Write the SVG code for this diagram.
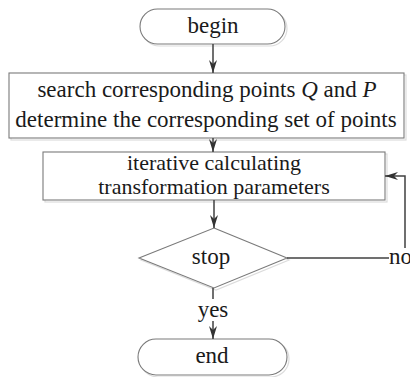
<svg xmlns="http://www.w3.org/2000/svg" width="410" height="377" viewBox="0 0 410 377" font-family="Liberation Serif, Times New Roman, DejaVu Serif, serif">
<style>
.shape{fill:#fff;stroke:#7a7a7a;stroke-width:1.1}
.shadow{fill:none;stroke:#dcdcdc;stroke-width:1.2}
text{font-family:"Liberation Serif","Times New Roman","DejaVu Serif",serif}
.lbl{font-size:23px;fill:#1a1a1a;text-anchor:middle}
.conn{fill:none;stroke:#404040;stroke-width:1.5}
</style>
<defs>
<marker id="arr" markerUnits="userSpaceOnUse" markerWidth="14" markerHeight="10" refX="13" refY="5" orient="auto">
<path d="M0,1 L13,5 L0,9 L4,5 z" fill="#333"/>
</marker>
</defs>
<rect width="410" height="377" fill="#fff"/>
<g id="begin">
<rect class="shadow" x="142" y="11" width="145" height="35" rx="17.5"/>
<rect class="shape" x="140" y="9" width="145" height="35" rx="17.5"/>
<text class="lbl" x="213" y="33">begin</text>
</g>
<g id="search">
<rect class="shadow" x="11" y="75" width="395" height="65"/>
<rect class="shape" x="9" y="73" width="395" height="65"/>
<text class="lbl" x="207" y="97">search corresponding points <tspan font-style="italic">Q</tspan> and <tspan font-style="italic">P</tspan></text>
<text class="lbl" x="206" y="127">determine the corresponding set of points</text>
</g>
<g id="iterate">
<rect class="shadow" x="45" y="154" width="342" height="48"/>
<rect class="shape" x="43" y="152" width="342" height="48"/>
<text class="lbl" x="214" y="170" style="font-size:22px">iterative calculating</text>
<text class="lbl" x="214" y="194" style="font-size:22px">transformation parameters</text>
</g>
<g id="stop">
<polygon class="shadow" points="216,230 289,260 216,290 141,260"/>
<polygon class="shape" points="214,228 287,258 214,288 139,258"/>
<text class="lbl" x="211" y="264">stop</text>
</g>
<g id="end">
<rect class="shadow" x="140" y="341" width="149" height="36" rx="18"/>
<rect class="shape" x="138" y="339" width="149" height="36" rx="18"/>
<text class="lbl" x="212" y="363">end</text>
</g>
<g id="connectors">
<line class="conn" x1="213" y1="44" x2="213" y2="73" marker-end="url(#arr)"/>
<line class="conn" x1="213" y1="138" x2="213" y2="152" marker-end="url(#arr)"/>
<line class="conn" x1="214" y1="200" x2="214" y2="228" marker-end="url(#arr)"/>
<line class="conn" x1="287" y1="258" x2="389" y2="258"/>
<text class="lbl" x="389" y="264" style="text-anchor:start">no</text>
<polyline class="conn" points="405,248 405,176 385,176" marker-end="url(#arr)"/>
<line class="conn" x1="213" y1="288" x2="213" y2="299"/>
<text class="lbl" x="213" y="317">yes</text>
<line class="conn" x1="213" y1="321" x2="213" y2="339" marker-end="url(#arr)"/>
</g>
</svg>
